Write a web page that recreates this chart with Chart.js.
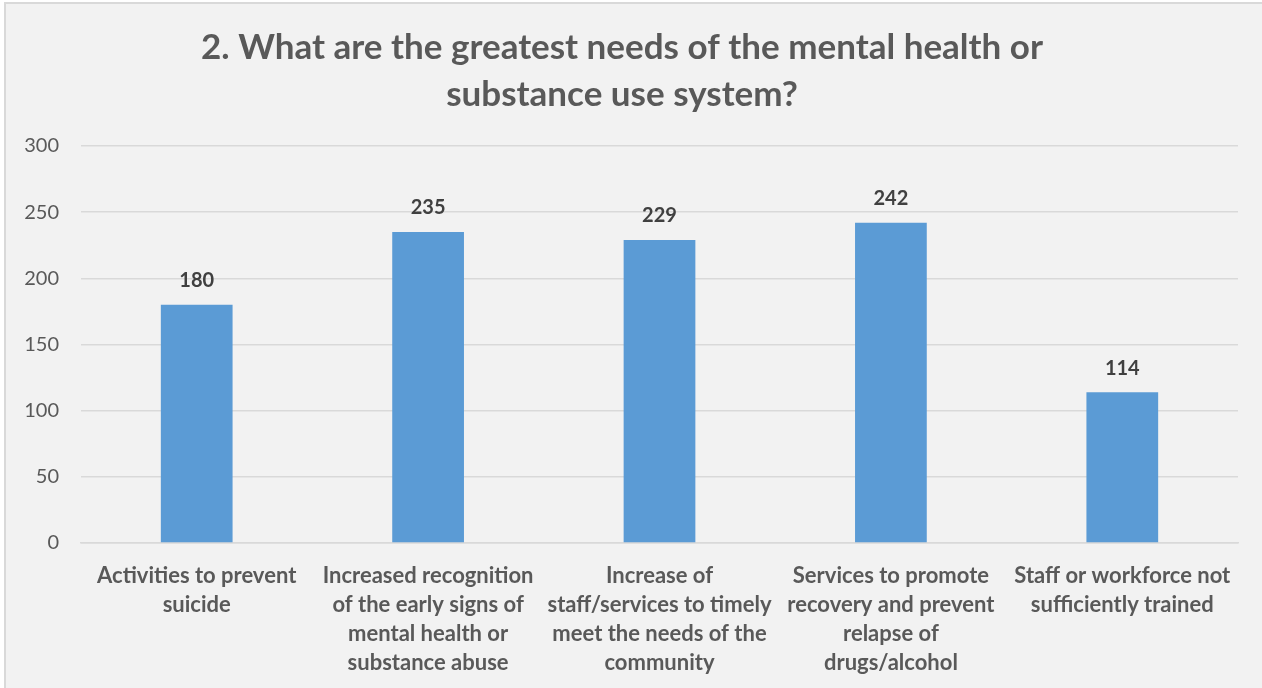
<!DOCTYPE html>
<html>
<head>
<meta charset="utf-8">
<script src="https://cdn.jsdelivr.net/npm/chart.js@4"></script>
<style>
  html, body { margin: 0; padding: 0; background: #fff; }
  #box {
    position: absolute; left: 4px; top: 2px;
    width: 1258px; height: 686px;
    border-top: 2px solid #d9d9d9; border-left: 2px solid #d9d9d9;
    background: #f2f2f2;
  }
</style>
</head>
<body>
<div id="box"><canvas id="myChart" width="1258" height="686"></canvas></div>
<script>
// values
const categories = [
  ['Activities to prevent', 'suicide'],
  ['Increased recognition', 'of the early signs of', 'mental health or', 'substance abuse'],
  ['Increase of', 'staff/services to timely', 'meet the needs of the', 'community'],
  ['Services to promote', 'recovery and prevent', 'relapse of', 'drugs/alcohol'],
  ['Staff or workforce not', 'sufficiently trained']
]
const counts = [180, 235, 229, 242, 114]
const yTicks = [0, 50, 100, 150, 200, 250, 300]
const titleLines = ['2. What are the greatest needs of the mental health or', 'substance use system?']

const FONT = 'Lato, "Open Sans", sans-serif'

// draws the number above each bar
const barValues = {
  id: 'barValues',
  afterDatasetsDraw(chart) {
    const ctx = chart.ctx
    const meta = chart.getDatasetMeta(0)
    ctx.save()
    ctx.font = 'bold 20px ' + FONT
    ctx.fillStyle = '#404040'
    ctx.textAlign = 'center'
    ctx.textBaseline = 'bottom'
    meta.data.forEach((bar, i) => {
      ctx.fillText(counts[i], bar.x, bar.y - 14)
    })
    ctx.restore()
  }
}

const ctx = document.getElementById('myChart')

var myChart = new Chart(ctx, {
  type: 'bar',
  data: {
    labels: categories,
    datasets: [{
      label: 'Responses',
      data: counts,
      backgroundColor: '#5b9bd5',
      borderWidth: 0,
      categoryPercentage: 1,
      barPercentage: 0.31
    }]
  },
  options: {
    responsive: false,
    animation: false,
    layout: { padding: { left: 0, right: 26, top: 0, bottom: 0 } },
    plugins: {
      legend: { display: false },
      tooltip: { enabled: false },
      title: {
        display: true,
        text: titleLines,
        color: '#595959',
        font: { family: FONT, size: 35, weight: 'bold', lineHeight: '47px' },
        padding: { top: 20, bottom: 28 }
      }
    },
    scales: {
      y: {
        min: 0,
        max: 300,
        afterBuildTicks(scale) {
          scale.ticks = yTicks.map(v => ({ value: v }))
        },
        afterFit(scale) { scale.width = 75 },
        border: { display: false },
        grid: { color: '#d9d9d9', lineWidth: 1.5, drawTicks: false },
        ticks: {
          color: '#595959',
          padding: 22,
          font: { family: FONT, size: 20 }
        }
      },
      x: {
        afterFit(scale) { scale.height = 147 },
        border: { color: '#d9d9d9', width: 1.5 },
        grid: { display: false },
        ticks: {
          color: '#595959',
          padding: 10,
          maxRotation: 0,
          autoSkip: false,
          font: { family: FONT, size: 22, weight: 'bold', lineHeight: '29px' }
        }
      }
    }
  },
  plugins: [barValues]
})
</script>
</body>
</html>
